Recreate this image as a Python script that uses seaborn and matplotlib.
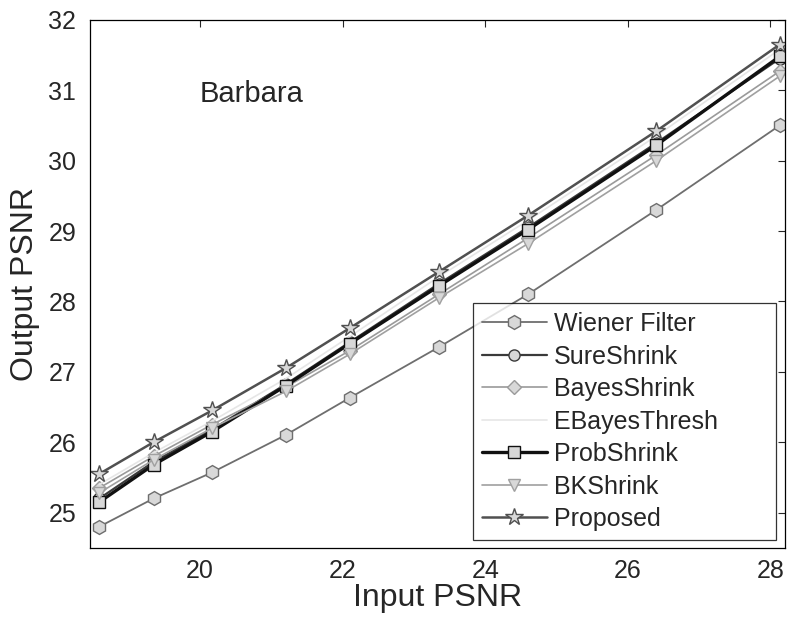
import numpy as np
import pandas as pd
import seaborn as sns
import matplotlib.pyplot as plt

sns.set_style("white")
plt.rcParams['font.family'] = ['Liberation Sans', 'DejaVu Sans']

input_psnr = [18.59, 19.35, 20.17, 21.2, 22.1, 23.35, 24.6, 26.4, 28.13]

wiener = [24.8, 25.2, 25.57, 26.1, 26.63, 27.35, 28.1, 29.3, 30.5]
sure = [25.2, 25.72, 26.18, 26.82, 27.42, 28.25, 29.05, 30.25, 31.45]
bayes = [25.35, 25.8, 26.25, 26.78, 27.3, 28.1, 28.9, 30.08, 31.27]
ebayes = [25.4, 25.85, 26.3, 26.9, 27.5, 28.35, 29.15, 30.35, 31.58]
prob = [25.15, 25.68, 26.15, 26.8, 27.4, 28.22, 29.02, 30.22, 31.48]
bk = [25.28, 25.75, 26.2, 26.72, 27.25, 28.05, 28.82, 30.0, 31.2]
proposed = [25.55, 26.0, 26.45, 27.05, 27.62, 28.42, 29.22, 30.42, 31.65]

names = ["Wiener Filter", "SureShrink", "BayesShrink", "EBayesThresh",
         "ProbShrink", "BKShrink", "Proposed"]
series = [wiener, sure, bayes, ebayes, prob, bk, proposed]
markers = ["h", "o", "D", None, "s", "v", "*"]
colors = ["#6e6e6e", "#3a3a3a", "#9a9a9a", "#e6e6e6", "#111111", "#a0a0a0", "#505050"]
widths = [1.3, 1.6, 1.2, 1.2, 2.4, 1.2, 1.8]
msizes = [10, 8, 7, 0, 8, 9, 13]

fig = plt.figure(figsize=(7.91, 6.21), dpi=100)
ax = fig.add_axes([0.114, 0.118, 0.878, 0.85])

for name, vals, m, c, w, ms in zip(names, series, markers, colors, widths, msizes):
    sns.lineplot(x=input_psnr, y=vals, ax=ax, label=name, color=c, linewidth=w,
                 marker=m, markersize=ms, markerfacecolor="#d8d8d8",
                 markeredgecolor=c if c != "#e6e6e6" else "#cccccc",
                 markeredgewidth=1.0)

ax.set_xlim(18.46, 28.2)
ax.set_ylim(24.5, 32)
ax.set_xticks([20, 22, 24, 26, 28])
ax.set_yticks([25, 26, 27, 28, 29, 30, 31, 32])
ax.tick_params(direction="in", top=True, right=True, length=5, labelsize=18, width=0.8)
ax.tick_params(axis="y", pad=10)
ax.tick_params(axis="x", pad=8)
for s in ax.spines.values():
    s.set_color("black")
    s.set_linewidth(0.9)

ax.set_xlabel("Input PSNR", fontsize=23, labelpad=0)
ax.set_ylabel("Output PSNR", fontsize=23, labelpad=6)
ax.text(20.0, 30.95, "Barbara", fontsize=21, va="center", ha="left")

leg = ax.legend(loc="lower left", bbox_to_anchor=(0.551, 0.015, 0.436, 0.44),
                mode="expand", borderaxespad=0, fontsize=18, frameon=True,
                fancybox=False, edgecolor="black", handlelength=2.6,
                borderpad=0.35, labelspacing=0.34, handletextpad=0.3)
leg.get_frame().set_linewidth(0.9)

plt.savefig("out.png", dpi=100)
